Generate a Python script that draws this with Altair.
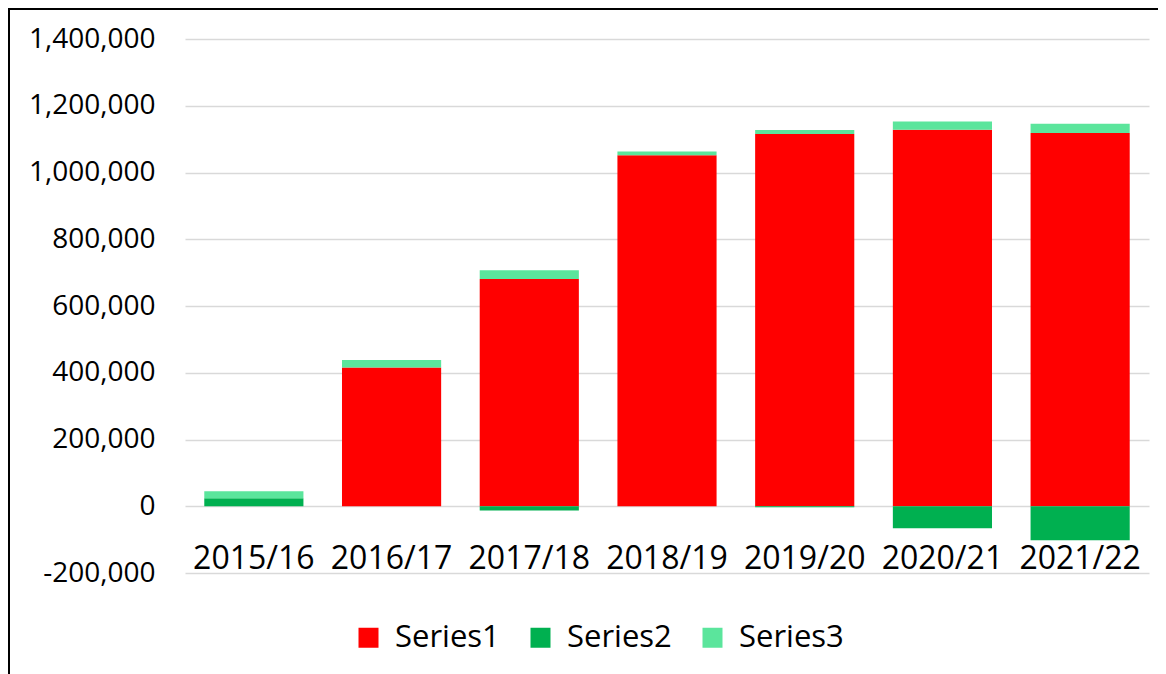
import altair as alt
import pandas as pd

years = ["2015/16", "2016/17", "2017/18", "2018/19", "2019/20", "2020/21", "2021/22"]
series_names = ["Series1", "Series2", "Series3"]
series1 = [0, 416000, 681000, 1052000, 1115000, 1128000, 1118000]
series2 = [24000, 0, -13000, 0, -3000, -66000, -102000]
series3 = [21000, 22000, 26000, 11000, 12000, 25000, 28000]
colors = ["#FF0000", "#00B050", "#5BE59C"]

rows = []
for i, y in enumerate(years):
    for k, (name, vals) in enumerate(zip(series_names, [series1, series2, series3])):
        rows.append({"year": y, "series": name, "value": vals[i], "ord": k})
df = pd.DataFrame(rows)

FONT = "Open Sans"

bars = alt.Chart(df).mark_bar().encode(
    x=alt.X("year:N", sort=years,
            scale=alt.Scale(paddingInner=0.28, paddingOuter=0.14),
            axis=alt.Axis(title=None, labelAngle=0, domain=False, ticks=False,
                          labelFontSize=32, labelFont=FONT, labelColor="#000000",
                          offset=-30, labelPadding=0, labelBaseline="top")),
    y=alt.Y("value:Q", stack="zero",
            scale=alt.Scale(domain=[-200000, 1400000], nice=False),
            axis=alt.Axis(title=None, values=list(range(-200000, 1400001, 200000)),
                          labelExpr="datum.value < 0 ? '-' + format(-datum.value, ',') : format(datum.value, ',')",
                          domain=False, ticks=False, labelPadding=30,
                          labelFontSize=28, labelFont=FONT, labelColor="#000000",
                          grid=True, gridColor="#d9d9d9", gridWidth=1.5)),
    color=alt.Color("series:N", sort=series_names,
                    scale=alt.Scale(domain=series_names, range=colors),
                    legend=alt.Legend(title=None, orient="none", direction="horizontal",
                                      legendX=168, legendY=583,
                                      symbolType="square", symbolSize=400,
                                      symbolStrokeWidth=0, labelFontSize=31,
                                      labelFont=FONT, labelColor="#000000",
                                      labelOffset=11, columnPadding=25)),
    order=alt.Order("ord:Q", sort="ascending"),
)

frame_df = pd.DataFrame({"a": [0]})
frame_left = alt.Chart(frame_df).mark_rule(color="#000000", strokeWidth=2).encode(
    x=alt.value(-176), y=alt.value(-31), y2=alt.value(640))
frame_top = alt.Chart(frame_df).mark_rule(color="#000000", strokeWidth=2).encode(
    x=alt.value(-177), x2=alt.value(990), y=alt.value(-30))

chart = alt.layer(bars, frame_left, frame_top).properties(
    width=964, height=534,
    autosize=alt.AutoSizeParams(type="none"),
    padding={"left": 177, "top": 31, "right": 9, "bottom": 101},
).configure_view(strokeWidth=0)

chart.save("out.html", embed_options={"renderer": "svg", "actions": False})
